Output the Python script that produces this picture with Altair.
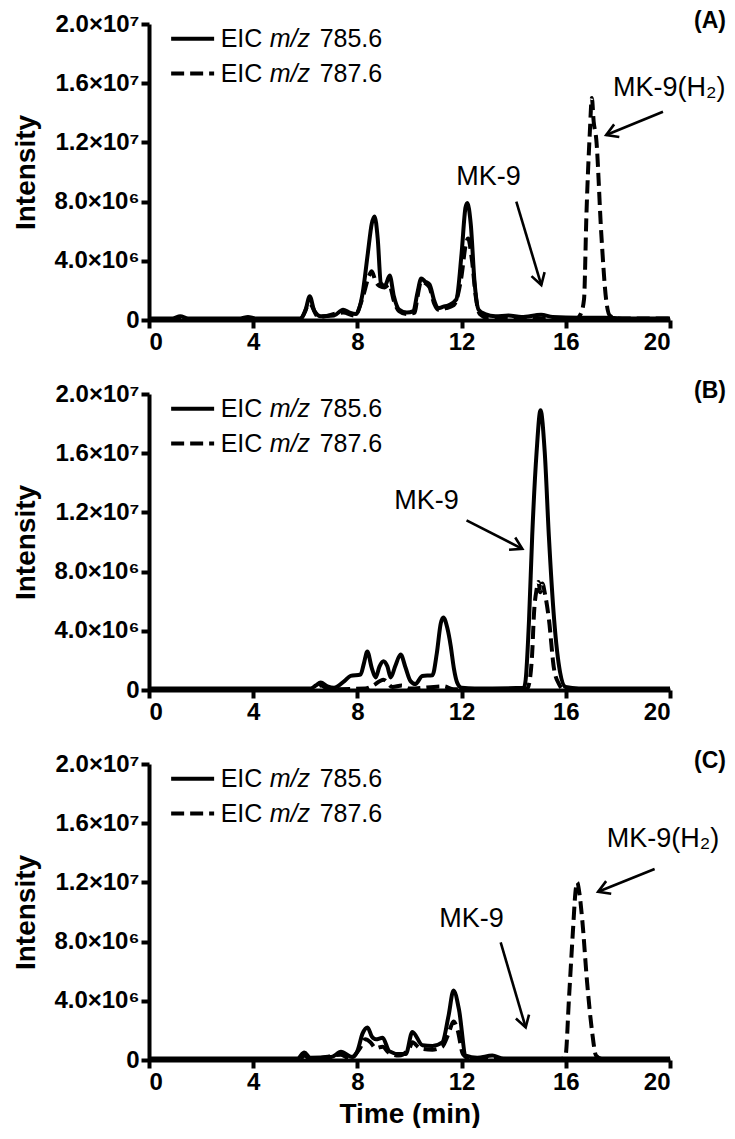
import math
import altair as alt
import pandas as pd

W, H = 521, 296
FONT = "Liberation Sans"

# ---------------- data (time in min, intensity in 1e6 counts) ----------------
# Panel A
A_785_t = [0.0, 0.9, 1.2, 1.5, 3.5, 3.8, 4.1, 5.8, 6.0, 6.17, 6.35, 6.6, 7.1, 7.45, 7.7, 7.95, 8.2, 8.4, 8.55,
           8.66, 8.78, 8.9, 9.05, 9.24, 9.4, 9.6, 9.9, 10.15, 10.3, 10.45, 10.6, 10.77, 10.95, 11.1, 11.3, 11.5,
           11.8, 12.0, 12.15, 12.22, 12.35, 12.5, 12.65, 12.9, 13.3, 13.8, 14.3, 15.05, 15.5, 16.5, 17.5, 18.5, 20.0]
A_785_i = [0.1, 0.1, 0.25, 0.1, 0.1, 0.2, 0.1, 0.1, 0.6, 1.6, 0.6, 0.25, 0.3, 0.7, 0.5, 0.4, 1.8, 4.5, 6.5,
           7.0, 5.5, 2.5, 2.3, 3.0, 1.6, 0.7, 0.5, 0.6, 1.8, 2.8, 2.6, 2.4, 1.3, 0.8, 0.9, 1.0,
           1.4, 4.5, 7.6, 7.9, 6.5, 2.5, 0.7, 0.4, 0.25, 0.3, 0.2, 0.35, 0.2, 0.15, 0.15, 0.1, 0.1]
A_787_t = [0.0, 5.8, 6.17, 6.5, 7.45, 7.9, 8.2, 8.45, 8.55, 8.7, 8.85, 9.05, 9.22, 9.4, 9.6, 9.9, 10.2, 10.3,
           10.45, 10.6, 10.77, 10.95, 11.1, 11.4, 11.7, 12.0, 12.15, 12.25, 12.4, 12.55, 12.7, 13.0, 16.4, 16.57,
           16.7, 16.79, 16.92, 17.0, 17.07, 17.17, 17.36, 17.55, 17.69, 18.0, 20.0]
A_787_i = [0.05, 0.05, 1.1, 0.2, 0.5, 0.3, 1.5, 3.0, 3.3, 2.6, 2.3, 2.2, 2.4, 1.3, 0.6, 0.4, 0.5, 1.5,
           2.6, 2.5, 2.2, 1.1, 0.7, 0.8, 1.0, 3.0, 5.0, 5.5, 4.0, 1.5, 0.4, 0.15, 0.1, 0.4,
           1.4, 7.0, 12.6, 15.0, 13.4, 12.2, 5.9, 1.35, 0.3, 0.1, 0.1]

# Panel B
B_785_t = [0.0, 6.2, 6.4, 6.59, 6.85, 7.1, 7.5, 7.74, 8.12, 8.25, 8.38, 8.55, 8.7, 8.85, 9.0, 9.15, 9.28, 9.45,
           9.66, 9.85, 10.04, 10.23, 10.49, 10.88, 11.05, 11.2, 11.3, 11.45, 11.58, 11.7, 11.83, 12.0, 12.5,
           14.39, 14.46, 14.59, 14.71, 14.88, 15.03, 15.19, 15.35, 15.55, 15.78, 15.99, 16.5, 20.0]
B_785_i = [0.1, 0.1, 0.3, 0.5, 0.25, 0.15, 0.6, 0.95, 1.05, 1.8, 2.6, 1.5, 0.85, 1.6, 1.95, 1.6, 0.85, 1.6,
           2.4, 1.5, 0.6, 0.4, 0.95, 1.0, 2.5, 4.5, 4.9, 4.2, 3.0, 1.5, 0.5, 0.15, 0.1,
           0.15, 0.7, 4.8, 10.4, 16.1, 18.9, 16.1, 10.4, 4.8, 1.2, 0.2, 0.1, 0.1]
B_787_t = [0.0, 6.3, 6.6, 6.9, 8.3, 8.6, 9.0, 9.35, 9.7, 10.0, 11.3, 11.7, 14.5, 14.6, 14.71, 14.78, 14.88,
           14.95, 15.02, 15.1, 15.2, 15.35, 15.55, 15.74, 15.9, 20.0]
B_787_i = [0.05, 0.05, 0.3, 0.05, 0.1, 0.3, 0.7, 0.2, 0.3, 0.1, 0.25, 0.05, 0.05, 0.5, 2.5, 5.2, 6.8,
           7.3, 6.6, 7.2, 6.5, 4.8, 1.4, 0.4, 0.05, 0.05]

# Panel C
C_785_t = [0.0, 5.7, 5.96, 6.2, 7.0, 7.37, 7.8, 8.0, 8.2, 8.39, 8.55, 8.71, 8.97, 9.22, 9.6, 9.86, 10.11, 10.5,
           10.88, 11.26, 11.5, 11.69, 11.9, 12.16, 12.6, 13.18, 13.6, 20.0]
C_785_i = [0.1, 0.1, 0.5, 0.15, 0.2, 0.55, 0.2, 0.6, 1.8, 2.2, 1.6, 1.4, 1.5, 0.6, 0.4, 0.4, 1.9, 1.0,
           0.95, 1.2, 3.0, 4.7, 3.4, 0.3, 0.15, 0.3, 0.1, 0.1]
C_787_t = [0.0, 5.8, 5.96, 6.2, 7.37, 7.7, 8.1, 8.3, 8.5, 8.7, 8.97, 9.2, 9.6, 10.0, 10.11, 10.4, 10.88, 11.26,
           11.5, 11.69, 11.85, 12.05, 12.3, 15.8, 15.99, 16.12, 16.27, 16.38, 16.44, 16.52, 16.63, 16.82, 17.01,
           17.16, 17.4, 20.0]
C_787_i = [0.05, 0.05, 0.3, 0.05, 0.35, 0.1, 0.8, 1.4, 1.2, 0.8, 0.9, 0.5, 0.3, 0.8, 1.2, 0.8, 0.7, 0.9,
           1.8, 2.6, 2.0, 0.4, 0.1, 0.05, 0.3, 4.1, 8.6, 11.5, 12.0, 11.3, 9.5, 5.2, 1.9,
           0.3, 0.05, 0.05]

# legend
legend_names = ["785.6", "787.6"]
legend_rows_i = [19.0, 16.65]
legend_line_t = [0.85, 2.5]
legend_text_t = 2.75

# annotations: text, t, i
A_notes = [("MK-9", 13.03, 9.66), ("MK-9(H\u2082)", 19.97, 15.65)]
A_arrows = [(14.1, 8.0, 15.06, 2.36), (19.73, 14.07, 17.55, 12.5)]
B_notes = [("MK-9", 10.65, 12.8)]
B_arrows = [(12.19, 11.46, 14.33, 9.54)]
C_notes = [("MK-9", 12.38, 9.53), ("MK-9(H\u2082)", 19.73, 14.93)]
C_arrows = [(13.5, 7.95, 14.46, 2.2), (19.41, 12.9, 17.24, 11.37)]
panel_labels = ["(A)", "(B)", "(C)"]
panel_label_pos = (22.15, 20.2)

x_ticks = [0, 4, 8, 12, 16, 20]
y_ticks = [0, 4, 8, 12, 16, 20]

# ---------------- chart ----------------
x_scale = alt.Scale(domain=[0, 20], nice=False, zero=False)
y_scale = alt.Scale(domain=[0, 20], nice=False)

y_label_expr = ("datum.value == 0 ? '0' : (datum.value < 10 ? format(datum.value, '.1f') + '\u00d710\u2076' "
                ": format(datum.value / 10, '.1f') + '\u00d710\u2077')")


def xenc(show_title):
    if show_title:
        ax = alt.Axis(values=x_ticks, title="Time (min)", format="d", titlePadding=6)
    else:
        ax = alt.Axis(values=x_ticks, title=None, format="d")
    return alt.X("t:Q", scale=x_scale, axis=ax)


def yenc():
    return alt.Y("i:Q", scale=y_scale,
                 axis=alt.Axis(values=y_ticks, title="Intensity", labelExpr=y_label_expr, titlePadding=13))


def panel(label, s_t, s_i, d_t, d_i, notes, arrows, show_title):
    X = xenc(show_title)
    Y = yenc()
    solid = alt.Chart(pd.DataFrame({"t": s_t, "i": s_i})).mark_line(
        color="black", strokeWidth=4, interpolate="monotone", strokeJoin="round").encode(x=X, y=Y)
    dashed = alt.Chart(pd.DataFrame({"t": d_t, "i": d_i})).mark_line(
        color="black", strokeWidth=4, strokeDash=[13, 6], interpolate="monotone").encode(x=X, y=Y)

    # legend
    leg = pd.DataFrame({"t": [legend_line_t[0]] * 2, "t2": [legend_line_t[1]] * 2,
                        "i": legend_rows_i, "name": legend_names,
                        "tx": [legend_text_t] * 2})
    leg_solid = alt.Chart(leg.iloc[[0]]).mark_rule(color="black", strokeWidth=4).encode(
        x=X, x2="t2:Q", y=Y)
    leg_dash = alt.Chart(leg.iloc[[1]]).mark_rule(color="black", strokeWidth=4, strokeDash=[13, 6]).encode(
        x=X, x2="t2:Q", y=Y)
    txt_kw = dict(font=FONT, fontSize=25, color="black", align="left", baseline="middle")
    leg_base = alt.Chart(leg).transform_calculate(t="datum.tx")
    leg_eic = leg_base.mark_text(**txt_kw).encode(x=X, y=Y, text=alt.value("EIC"))
    leg_mz = leg_base.mark_text(dx=49, fontStyle="italic", **txt_kw).encode(x=X, y=Y, text=alt.value("m/z"))
    leg_num = leg_base.mark_text(dx=99, **txt_kw).encode(x=X, y=Y, text="name:N")

    # annotations
    nd = pd.DataFrame({"txt": [n[0] for n in notes], "t": [n[1] for n in notes], "i": [n[2] for n in notes]})
    note_txt = alt.Chart(nd).mark_text(font=FONT, fontSize=27, color="black", align="center",
                                       baseline="middle").encode(x=X, y=Y, text="txt:N")
    ad = pd.DataFrame({"t": [a[0] for a in arrows], "i": [a[1] for a in arrows],
                       "t2": [a[2] for a in arrows], "i2": [a[3] for a in arrows]})
    ad["ang"] = [math.degrees(math.atan2(-(a[3] - a[1]) * H / 20, (a[2] - a[0]) * W / 20)) % 360 for a in arrows]
    arrow_line = alt.Chart(ad).mark_rule(color="black", strokeWidth=2.6).encode(
        x=X, y=Y, x2="t2:Q", y2="i2:Q")
    head = alt.Chart(ad).transform_calculate(t="datum.t2", i="datum.i2").mark_point(
        shape="M-1,-0.6L0,0L-1,0.6", filled=False, color="black", strokeWidth=2.6, size=520, opacity=1
    ).encode(x=X, y=Y, angle=alt.Angle("ang:Q", scale=None))

    lab = pd.DataFrame({"t": [panel_label_pos[0]], "i": [panel_label_pos[1]], "txt": [label]})
    lab_txt = alt.Chart(lab).mark_text(font=FONT, fontSize=23, fontWeight="bold", color="black",
                                       align="right", baseline="middle").encode(x=X, y=Y, text="txt:N")

    return alt.layer(solid, dashed, leg_solid, leg_dash, leg_eic, leg_mz, leg_num,
                     note_txt, arrow_line, head, lab_txt).properties(width=W, height=H)


pA = panel(panel_labels[0], A_785_t, A_785_i, A_787_t, A_787_i, A_notes, A_arrows, False)
pB = panel(panel_labels[1], B_785_t, B_785_i, B_787_t, B_787_i, B_notes, B_arrows, False)
pC = panel(panel_labels[2], C_785_t, C_785_i, C_787_t, C_787_i, C_notes, C_arrows, True)

chart = alt.vconcat(pA, pB, pC, spacing=74, bounds="flush").properties(
    padding={"left": 4, "top": 2, "right": 0, "bottom": 0}
).configure_axis(
    domainColor="black", domainWidth=4, tickColor="black", tickWidth=4, tickSize=8,
    labelFont=FONT, labelFontSize=24, labelFontWeight="bold", labelColor="black", labelPadding=2,
    titleFont=FONT, titleFontSize=28, titleFontWeight="bold", titleColor="black", grid=False
).configure_view(strokeWidth=0)

chart.save("out.html", embed_options={"renderer": "svg", "actions": False})
